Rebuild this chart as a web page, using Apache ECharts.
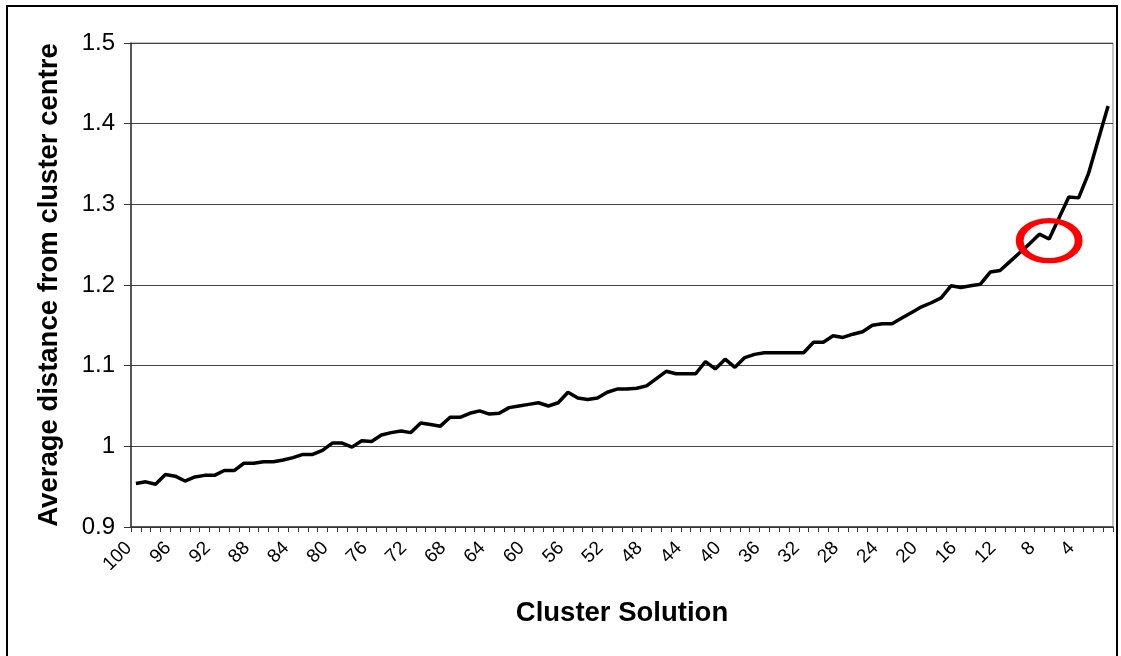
<!DOCTYPE html>
<html>
<head>
<meta charset="utf-8">
<title>Cluster Solution</title>
<script src="https://cdn.jsdelivr.net/npm/echarts@6/dist/echarts.min.js"></script>
<style>
  html, body { margin: 0; padding: 0; background: #fff; }
  #main { width: 1121px; height: 656px; }
</style>
</head>
<body>
<div id="main"></div>
<script>
  // number of clusters, from 100 down to 1
  var clusterSolutions = [
    '100','99','98','97','96','95','94','93','92','91',
    '90','89','88','87','86','85','84','83','82','81',
    '80','79','78','77','76','75','74','73','72','71',
    '70','69','68','67','66','65','64','63','62','61',
    '60','59','58','57','56','55','54','53','52','51',
    '50','49','48','47','46','45','44','43','42','41',
    '40','39','38','37','36','35','34','33','32','31',
    '30','29','28','27','26','25','24','23','22','21',
    '20','19','18','17','16','15','14','13','12','11',
    '10','9','8','7','6','5','4','3','2','1'
  ];

  // average distance from cluster centre
  var avgDistance = [
    0.954, 0.956, 0.953, 0.965, 0.963, 0.957, 0.962, 0.964, 0.964, 0.970,
    0.970, 0.979, 0.979, 0.981, 0.981, 0.983, 0.986, 0.990, 0.990, 0.995,
    1.004, 1.004, 0.999, 1.007, 1.006, 1.014, 1.017, 1.019, 1.017, 1.029,
    1.027, 1.025, 1.036, 1.036, 1.041, 1.044, 1.040, 1.041, 1.048, 1.050,
    1.052, 1.054, 1.050, 1.054, 1.067, 1.060, 1.058, 1.060, 1.067, 1.071,
    1.071, 1.072, 1.075, 1.084, 1.093, 1.090, 1.090, 1.090, 1.105, 1.096,
    1.108, 1.098, 1.110, 1.114, 1.116, 1.116, 1.116, 1.116, 1.116, 1.129,
    1.129, 1.137, 1.135, 1.139, 1.142, 1.150, 1.152, 1.152, 1.159, 1.166,
    1.173, 1.178, 1.184, 1.199, 1.197, 1.199, 1.201, 1.216, 1.218, 1.229,
    1.240, 1.251, 1.263, 1.257, 1.283, 1.309, 1.308, 1.338, 1.380, 1.422
  ];

  // y axis ticks
  var yMin = 0.9;
  var yMax = 1.5;
  var yStep = 0.1;

  // the point that is circled in red
  var circledCluster = '7';
  var circledValue = 1.255;

  var fontName = '"Liberation Sans", Arial, sans-serif';

  var chart = echarts.init(document.getElementById('main'));
  chart.setOption({
    animation: false,
    backgroundColor: '#fff',
    graphic: [{
      type: 'rect',
      shape: { x: 7, y: 6, width: 1110, height: 700 },
      style: { fill: 'none', stroke: '#000', lineWidth: 2 },
      silent: true
    }],
    grid: {
      left: 131,
      top: 43,
      right: 8,
      bottom: 129,
      show: true,
      borderColor: '#888',
      borderWidth: 1,
      outerBoundsMode: 'none'
    },
    xAxis: {
      type: 'category',
      data: clusterSolutions,
      boundaryGap: true,
      name: 'Cluster Solution',
      nameLocation: 'middle',
      nameGap: 72,
      nameTextStyle: { fontFamily: fontName, fontSize: 27.5, fontWeight: 'bold', color: '#000' },
      axisLine: { lineStyle: { color: '#333', width: 1.5 } },
      axisTick: { show: true, interval: 0, inside: false, length: 5, lineStyle: { color: '#333' } },
      axisLabel: {
        interval: 3,
        rotate: 45,
        margin: 11,
        padding: [0, 10, 0, 0],
        fontFamily: fontName,
        fontSize: 19,
        color: '#000'
      },
      splitLine: { show: false }
    },
    yAxis: {
      type: 'value',
      min: yMin,
      max: yMax,
      interval: yStep,
      name: 'Average distance from cluster centre',
      nameLocation: 'middle',
      nameRotate: 90,
      nameGap: 68,
      nameTextStyle: { fontFamily: fontName, fontSize: 27.5, fontWeight: 'bold', color: '#000' },
      axisLine: { show: true, lineStyle: { color: '#333', width: 1.5 } },
      axisTick: { show: true, inside: false, length: 7, lineStyle: { color: '#333' } },
      axisLabel: {
        margin: 16,
        fontFamily: fontName,
        fontSize: 24,
        color: '#000',
        formatter: function (v) { return String(+v.toFixed(1)); }
      },
      splitLine: { show: true, lineStyle: { color: '#444', width: 1 } }
    },
    series: [{
      name: 'Average distance',
      type: 'line',
      data: avgDistance,
      showSymbol: false,
      symbol: 'none',
      lineStyle: { color: '#000', width: 3.5 },
      itemStyle: { color: '#000' },
      markPoint: {
        silent: true,
        symbol: 'path://M0,50C0,22.4 22.4,0 50,0C77.6,0 100,22.4 100,50C100,77.6 77.6,100 50,100C22.4,100 0,77.6 0,50Z',
        symbolSize: [59, 40],
        itemStyle: { color: 'rgba(0,0,0,0)', borderColor: '#ff0000', borderWidth: 6.5 },
        label: { show: false },
        data: [{ coord: [circledCluster, circledValue] }]
      }
    }]
  });
</script>
</body>
</html>
